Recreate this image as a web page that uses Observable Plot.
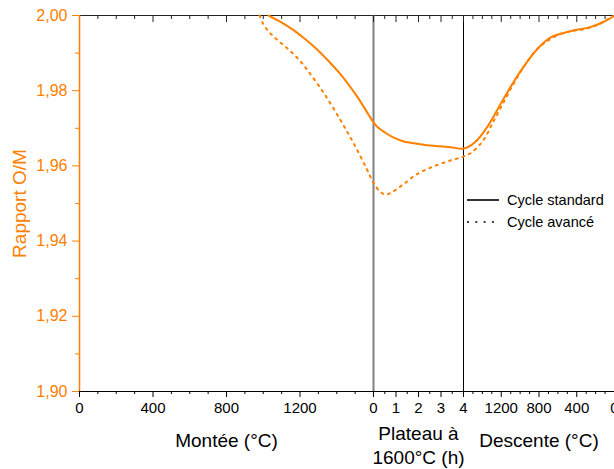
<!DOCTYPE html>
<html><head><meta charset="utf-8">
<script src="https://cdn.jsdelivr.net/npm/d3@7"></script>
<script src="https://cdn.jsdelivr.net/npm/@observablehq/plot@0.6"></script>
<style>
body{margin:0;background:#fff;font-family:"Liberation Sans",Arial,sans-serif}
#wrap{position:relative;width:614px;height:469px;overflow:hidden}
#legend{position:absolute;left:460px;top:185px}
</style></head><body><div id="wrap"></div><script>
// ---- Data (O/M ratio) ----
// Cycle standard
const std_montee_T  = [1029, 1094, 1159, 1224, 1290, 1355, 1420, 1513, 1600];
const std_montee_OM = [2.000, 1.9983, 1.9963, 1.9939, 1.9911, 1.9879, 1.9844, 1.9783, 1.9716];
const std_plateau_h  = [0, 0.2, 0.53, 0.9, 1.35, 1.94, 2.4, 2.98, 3.5, 4];
const std_plateau_OM = [1.9716, 1.9702, 1.9688, 1.9675, 1.9665, 1.9659, 1.9655, 1.9652, 1.9649, 1.9646];
const std_descente_T  = [1600, 1478, 1339, 1165, 990, 817, 677, 468, 259, 121, 0];
const std_descente_OM = [1.9646, 1.9663, 1.9707, 1.9783, 1.9854, 1.9911, 1.9942, 1.9958, 1.9969, 1.9982, 2.000];
// Cycle avancé
const adv_montee_T  = [980, 996, 1023, 1056, 1094, 1132, 1170, 1208, 1246, 1328, 1420, 1491, 1562, 1600];
const adv_montee_OM = [2.000, 1.9981, 1.9961, 1.9944, 1.9928, 1.9912, 1.9895, 1.9875, 1.9851, 1.9795, 1.9722, 1.9661, 1.9593, 1.9555];
const adv_plateau_h  = [0, 0.3, 0.55, 0.85, 1.3, 1.93, 2.6, 3.4, 4];
const adv_plateau_OM = [1.9555, 1.9531, 1.9524, 1.9531, 1.9550, 1.9578, 1.9597, 1.9614, 1.9625];
const adv_descente_T  = [1600, 1512, 1391, 1287, 1165, 1060, 938, 834, 729, 608, 468, 295, 156, 0];
const adv_descente_OM = [1.9625, 1.9636, 1.9668, 1.9716, 1.9774, 1.9823, 1.9872, 1.9907, 1.9929, 1.9947, 1.9958, 1.9965, 1.9978, 2.000];

// Ticks
const yMajor = [1.90, 1.92, 1.94, 1.96, 1.98, 2.00];
const yMinor = [1.91, 1.93, 1.95, 1.97, 1.99];
const monteeMajor = [0, 400, 800, 1200];
const monteeMinor = [100, 200, 300, 500, 600, 700, 900, 1000, 1100, 1300, 1400, 1500];
const plateauMajor = [0, 1, 2, 3, 4];
const plateauMinor = [0.5, 1.5, 2.5, 3.5];
const descenteMajor = [1200, 800, 400, 0];
const descenteMinor = [1500, 1400, 1300, 1100, 1000, 900, 700, 600, 500, 300, 200, 100];
const axisTitles = ["Montée (°C)", "Plateau à\n1600°C (h)", "Descente (°C)"];
const yTitle = "Rapport O/M";
const legendLabels = ["Cycle standard", "Cycle avancé"];

// ---- Composite x axis (montée | plateau | descente) ----
const W_M = 294, W_P = 90, W_D = 151;
const uM = T => T * W_M / 1600;
const uP = h => W_M + h * W_P / 4;
const uD = T => W_M + W_P + (1600 - T) * W_D / 1600;

function build(Tm, Vm, Hh, Vp, Td, Vd) {
  return [
    ...Tm.map((t, i) => ({u: uM(t), v: Vm[i]})),
    ...Hh.map((h, i) => ({u: uP(h), v: Vp[i]})).slice(1),
    ...Td.map((t, i) => ({u: uD(t), v: Vd[i]})).slice(1)
  ];
}
const stdData = build(std_montee_T, std_montee_OM, std_plateau_h, std_plateau_OM, std_descente_T, std_descente_OM);
const advData = build(adv_montee_T, adv_montee_OM, adv_plateau_h, adv_plateau_OM, adv_descente_T, adv_descente_OM);

const labelMap = new Map();
monteeMajor.forEach(t => labelMap.set(uM(t), String(t)));
plateauMajor.forEach(h => labelMap.set(uP(h), String(h)));
descenteMajor.forEach(t => labelMap.set(uD(t), String(t)));
const xMajor = [...labelMap.keys()];
const xMinor = [...monteeMinor.map(uM), uM(1600), ...plateauMinor.map(uP), uP(4), ...descenteMinor.map(uD)];
const topMajor = [...monteeMajor.map(uM), ...plateauMajor.map(uP), ...descenteMajor.map(uD)];

const orange = "#ff8000";
const H = 469, MT = 15, MB = 78;
const innerH = H - MT - MB;

const chart = Plot.plot({
  width: 614, height: H,
  marginLeft: 79, marginRight: 0, marginTop: MT, marginBottom: MB,
  x: {domain: [0, W_M + W_P + W_D]},
  y: {domain: [1.90, 2.00]},
  style: {fontFamily: '"Liberation Sans", Arial, sans-serif', fontSize: "15px", background: "white", color: "black"},
  marks: [
    Plot.ruleY([2.00], {stroke: "#222"}),
    Plot.ruleY([1.90], {stroke: "#000"}),
    Plot.ruleX([uP(0)], {stroke: "#808080", strokeWidth: 2}),
    Plot.ruleX([uP(4)], {stroke: "#000", strokeWidth: 1}),
    Plot.tickX(topMajor, {x: d => d, insetBottom: innerH - 7, stroke: "#222"}),
    Plot.tickX(xMinor, {x: d => d, insetBottom: innerH - 4, stroke: "#222"}),
    Plot.axisX(xMajor, {anchor: "bottom", tickSize: 6, tickPadding: 5, fontSize: 15, tickFormat: d => labelMap.get(d), label: null}),
    Plot.axisX(xMinor, {anchor: "bottom", tickSize: 3, tickFormat: () => "", label: null}),
    Plot.axisY(yMajor, {anchor: "left", tickSize: 7, tickPadding: 5, fontSize: 16, color: orange,
      tickFormat: d => d.toFixed(2).replace(".", ","), label: null}),
    Plot.axisY(yMinor, {anchor: "left", tickSize: 4, color: orange, tickFormat: () => "", label: null}),
    Plot.ruleX([0], {stroke: orange, strokeWidth: 1.5}),
    Plot.line(stdData, {x: "u", y: "v", stroke: orange, strokeWidth: 2, curve: "catmull-rom"}),
    Plot.line(advData, {x: "u", y: "v", stroke: orange, strokeWidth: 2, strokeDasharray: "2,5", curve: "catmull-rom"}),
    Plot.text([yTitle], {frameAnchor: "left", dx: -60, rotate: -90, textAnchor: "middle", lineAnchor: "middle", fill: orange, fontSize: 19}),
    Plot.text([axisTitles[0]], {x: uM(800), frameAnchor: "bottom", dy: 49, lineAnchor: "middle", fontSize: 19, fill: "black"}),
    Plot.text([axisTitles[1]], {x: uP(2), frameAnchor: "bottom", dy: 53, lineAnchor: "middle", lineHeight: 1.27, fontSize: 19, fill: "black"}),
    Plot.text([axisTitles[2]], {x: uD(800), frameAnchor: "bottom", dy: 49, lineAnchor: "middle", fontSize: 19, fill: "black"})
  ]
});
const wrap = document.getElementById("wrap");
wrap.appendChild(chart);

// legend
const lg = d3.select(wrap).append("svg").attr("id", "legend").attr("width", 154).attr("height", 50);
const rows = [{dash: null, y: 15}, {dash: "2,6.3", y: 37}];
legendLabels.forEach((lab, i) => {
  const g = lg.append("g");
  g.append("line").attr("x1", 7).attr("x2", i ? 38 : 39).attr("y1", rows[i].y).attr("y2", rows[i].y)
    .attr("stroke", "black").attr("stroke-width", i ? 1.5 : 1.6).attr("stroke-dasharray", rows[i].dash);
  g.append("text").attr("x", 47).attr("y", rows[i].y).attr("dy", "0.35em")
    .attr("font-size", 14.5).attr("font-family", '"Liberation Sans", Arial, sans-serif').text(lab);
});
</script></body></html>
